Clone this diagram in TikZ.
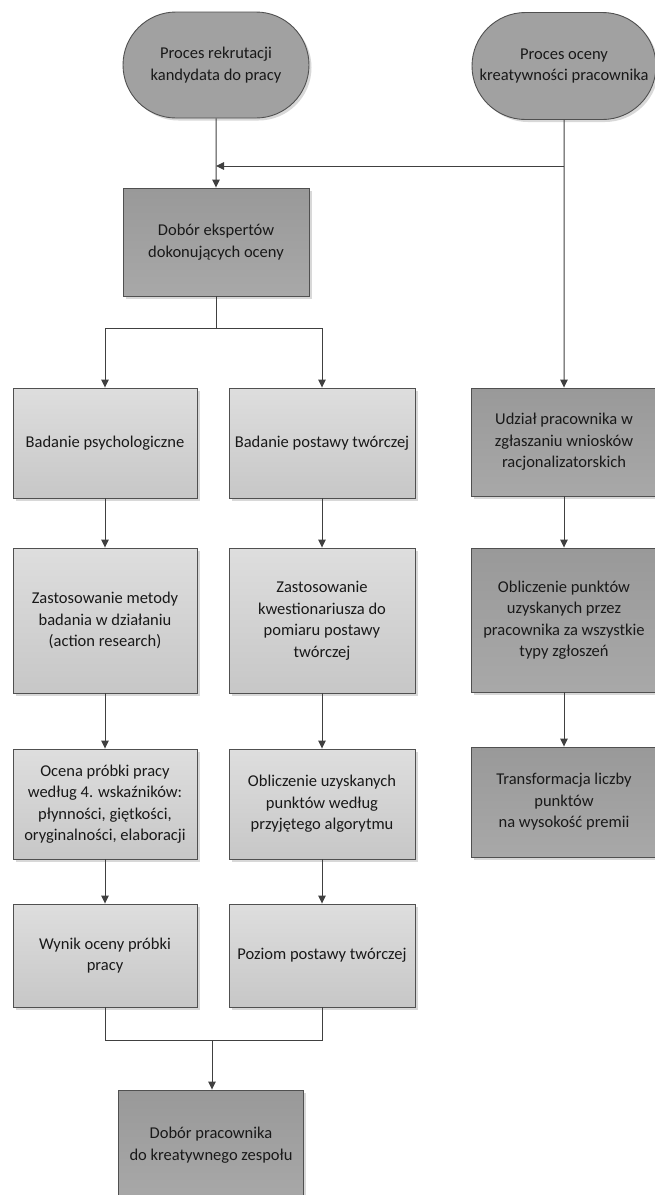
\documentclass[tikz,border=0pt]{standalone}
\usepackage{fontspec}
\setmainfont{Carlito}
\usetikzlibrary{arrows.meta,shapes.misc,shadows,calc}
\definecolor{lineC}{HTML}{404040}
\definecolor{edgeC}{HTML}{505050}
\tikzset{
  base/.style={draw=edgeC, line width=0.9pt, align=center, inner sep=2pt,
    font=\fontsize{16.5}{21.5}\selectfont, text=black!90,
    drop shadow={shadow xshift=2.5pt, shadow yshift=-2.5pt, fill=black!30, opacity=0.5}},
  lightbox/.style={base, rectangle, top color=black!13, bottom color=black!22},
  darkbox/.style={base, rectangle, top color=black!40, bottom color=black!34},
  term/.style={base, rounded rectangle, fill=black!37},
  conn/.style={draw=lineC, line width=1pt},
  arr/.style={conn, -{Triangle[length=8pt,width=7.5pt]}}
}
\begin{document}
\begin{tikzpicture}[x=1pt,y=-1pt]
\useasboundingbox (0,0) rectangle (654,1195);
% terminals
\node[term, minimum width=190pt, minimum height=106pt] (t1) at (216,65) {Proces rekrutacji\\kandydata do pracy};
\node[term, minimum width=188pt, minimum height=107pt] (t2) at (564,66) {Proces oceny\\kreatywności pracownika};
% top box
\node[darkbox, minimum width=186pt, minimum height=108pt] (de) at (216,242) {Dobór ekspertów\\dokonujących oceny};
% row 1
\node[lightbox, minimum width=184pt, minimum height=110pt] (bp) at (105,443) {Badanie psychologiczne};
\node[lightbox, minimum width=186pt, minimum height=110pt] (bt) at (322,443) {Badanie postawy twórczej};
\node[darkbox, minimum width=186pt, minimum height=108pt] (ud) at (564,442) {Udział pracownika w\\zgłaszaniu wniosków\\racjonalizatorskich};
% row 2
\node[lightbox, minimum width=184pt, minimum height=145pt] (z1) at (105,620.5) {Zastosowanie metody\\badania w działaniu\\(action research)};
\node[lightbox, minimum width=186pt, minimum height=145pt] (z2) at (322,620.5) {Zastosowanie\\kwestionariusza do\\pomiaru postawy\\twórczej};
\node[darkbox, minimum width=186pt, minimum height=144pt] (ob) at (564,620) {Obliczenie punktów\\uzyskanych przez\\pracownika za wszystkie\\typy zgłoszeń};
% row 3
\node[lightbox, minimum width=184pt, minimum height=110pt] (oc) at (105,804) {Ocena próbki pracy\\według 4. wskaźników:\\płynności, giętkości,\\oryginalności, elaboracji};
\node[lightbox, minimum width=186pt, minimum height=110pt] (ol) at (322,804) {Obliczenie uzyskanych\\punktów według\\przyjętego algorytmu};
\node[darkbox, minimum width=186pt, minimum height=110pt] (tr) at (564,802) {Transformacja liczby\\punktów\\na wysokość premii};
% row 4
\node[lightbox, minimum width=184pt, minimum height=103pt] (wy) at (105,955.5) {Wynik oceny próbki\\pracy};
\node[lightbox, minimum width=186pt, minimum height=103pt] (pz) at (322,955.5) {Poziom postawy twórczej};
% final
\node[darkbox, minimum width=185pt, minimum height=110pt] (dp) at (211,1145) {Dobór pracownika\\do kreatywnego zespołu};
% connectors
\coordinate (j1) at (564,166);
\coordinate (j2) at (216,328);
\coordinate (j3) at (212,1040);
\draw[arr] (t1) -- (de);
\draw[arr] (t2) -- (ud);
\draw[arr] (j1) -- (t1.south |- j1);
\draw[conn] (de) -- (j2);
\draw[arr] (j2) -| (bp);
\draw[arr] (j2) -| (bt);
\draw[arr] (bp) -- (z1);
\draw[arr] (z1) -- (oc);
\draw[arr] (oc) -- (wy);
\draw[arr] (bt) -- (z2);
\draw[arr] (z2) -- (ol);
\draw[arr] (ol) -- (pz);
\draw[arr] (ud) -- (ob);
\draw[arr] (ob) -- (tr);
\draw[conn] (wy.south) |- (j3);
\draw[conn] (pz.south) |- (j3);
\draw[arr] (j3) -- (j3 |- dp.north);
\end{tikzpicture}
\end{document}
